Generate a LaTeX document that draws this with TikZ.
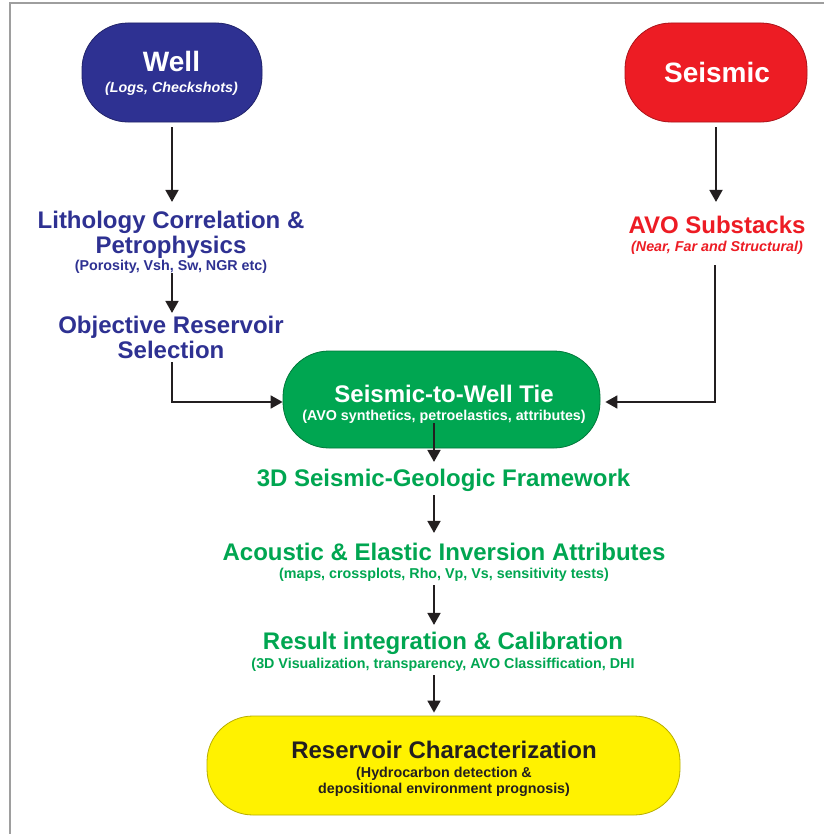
\documentclass[tikz,border=0pt]{standalone}
\usepackage{fontspec}
\setmainfont{Liberation Sans}
\usetikzlibrary{arrows.meta,calc}
\definecolor{wblue}{HTML}{2E3192}
\definecolor{sred}{HTML}{ED1C24}
\definecolor{tgreen}{HTML}{00A651}
\definecolor{ryellow}{HTML}{FFF200}
\definecolor{ink}{HTML}{231F20}
\definecolor{framegray}{HTML}{9E9E9E}
\begin{document}
\begin{tikzpicture}[x=1bp,y=-1bp,
  pill/.style={draw=#1!72!black, fill=#1, line width=0.8bp, rounded corners=46bp, inner sep=0pt},
  big/.style={font=\fontsize{28bp}{32bp}\selectfont\bfseries, inner sep=0pt, anchor=base},
  ttl/.style={font=\fontsize{24bp}{28bp}\selectfont\bfseries, inner sep=0pt, anchor=base},
  sub/.style={font=\fontsize{14.3bp}{16bp}\selectfont\bfseries, inner sep=0pt, anchor=base},
  subit/.style={font=\fontsize{14.3bp}{16bp}\selectfont\bfseries\itshape, inner sep=0pt, anchor=base},
  arr/.style={draw=ink, line width=1.8bp, -{Triangle[width=13bp,length=12bp]}},
]
\useasboundingbox (0,0) rectangle (824,834);
\fill[white] (0,0) rectangle (824,834);
\draw[framegray, line width=2bp] (10,834) -- (10,3) -- (824,3);

% Well
\node[pill=wblue, minimum width=180bp, minimum height=99bp] (well) at (172,72.5) {};
\node[big, white] (wellT) at (171.5,71.5) {Well};
\node[subit, white] (wellS) at (171.5,92) {(Logs, Checkshots)};

% Seismic
\node[pill=sred, minimum width=182bp, minimum height=99bp] (seis) at (716,72.5) {};
\node[big, white] (seisT) at (717,82) {Seismic};

% Left column
\node[ttl, wblue] (litho1) at (171,228) {Lithology Correlation \&};
\node[ttl, wblue] (litho2) at (171,253) {Petrophysics};
\node[sub, wblue] (lithoS) at (171,270) {(Porosity, Vsh, Sw, NGR etc)};
\node[ttl, wblue] (obj1) at (171,333) {Objective Reservoir};
\node[ttl, wblue] (obj2) at (171,358) {Selection};

% Right column
\node[ttl, sred] (avo) at (717,233) {AVO Substacks};
\node[subit, sred] (avoS) at (717,251) {(Near, Far and Structural)};

% Tie
\node[pill=tgreen, minimum width=317bp, minimum height=97bp] (tie) at (441.5,399.5) {};
\node[ttl, white] (tieT) at (444,402) {Seismic-to-Well Tie};
\node[sub, white] (tieS) at (444,420) {(AVO synthetics, petroelastics, attributes)};

% Central column
\node[ttl, tgreen] (fw) at (443.5,486) {3D Seismic-Geologic Framework};
\node[ttl, tgreen] (ac) at (444,560) {Acoustic \& Elastic Inversion Attributes};
\node[sub, tgreen] (acS) at (444,578) {(maps, crossplots, Rho, Vp, Vs, sensitivity tests)};
\node[ttl, tgreen] (rs) at (443,649) {Result integration \& Calibration};
\node[sub, tgreen] (rsS) at (443,668) {(3D Visualization, transparency, AVO Classiffication, DHI};

% Reservoir
\node[pill=ryellow, minimum width=473bp, minimum height=99bp] (res) at (443.5,765.5) {};
\node[ttl, ink] (resT) at (444,758) {Reservoir Characterization};
\node[sub, ink] (resS1) at (444,777) {(Hydrocarbon detection \&};
\node[sub, ink] (resS2) at (444,793) {depositional environment prognosis)};

\coordinate (spine) at (434,0);

% Connectors
\draw[arr, shorten <=5bp, shorten >=8.5bp] (well.south) -- (well.south |- litho1.north);
\draw[arr, shorten >=2.5bp] (lithoS.south -| well.south) -- (obj1.north -| well.south);
\draw[arr, shorten <=4bp] (obj2.south -| well.south) |- ([yshift=-2.5bp]tie.west);
\draw[arr, shorten <=5bp, shorten >=13.5bp] (seis.south) -- (seis.south |- avo.north);
\draw[arr, shorten <=11bp, shorten >=5bp] ([xshift=-2bp]avoS.south) |- ([yshift=-2.5bp]tie.east);
\draw[arr, shorten >=6.5bp] (tieS.south -| spine) -- (fw.north -| spine);
\draw[arr, shorten <=4bp, shorten >=9.5bp] (fw.south -| spine) -- (ac.north -| spine);
\draw[arr, shorten <=4bp, shorten >=6.5bp] (acS.south -| spine) -- (rs.north -| spine);
\draw[arr, shorten <=4bp, shorten >=3bp] (rsS.south -| spine) -- (res.north -| spine);
\end{tikzpicture}
\end{document}
